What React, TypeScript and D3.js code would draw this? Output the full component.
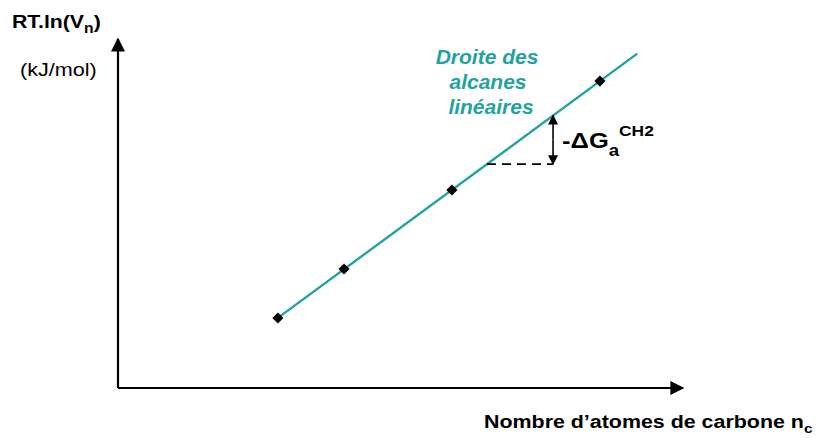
import React from "react";
import * as d3 from "d3";

const carbonNumbers = [2.83, 4.0, 5.91, 8.53];
const rtLnValues = [2.01, 3.42, 5.69, 8.82];
const lineEndX = 9.19;
const stepStartX = 6.53;
const stepEndX = 7.7;

const W = 821;
const H = 438;
const TEAL = "#22a39f";

export default function App() {
  const x = d3.scaleLinear().domain([0, 10]).range([118, 683]);
  const y = d3.scaleLinear().domain([0, 10]).range([388, 40]);

  const n = carbonNumbers.length;
  const mx = d3.mean(carbonNumbers)!;
  const my = d3.mean(rtLnValues)!;
  let sxy = 0, sxx = 0;
  for (let i = 0; i < n; i++) {
    sxy += (carbonNumbers[i] - mx) * (rtLnValues[i] - my);
    sxx += (carbonNumbers[i] - mx) ** 2;
  }
  const slope = sxy / sxx;
  const icpt = my - slope * mx;
  const f = (v: number) => icpt + slope * v;

  const line = d3.line<[number, number]>().x(d => x(d[0])).y(d => y(d[1]));
  const fitPts: [number, number][] = [[carbonNumbers[0], f(carbonNumbers[0])], [lineEndX, f(lineEndX)]];
  const stepY = f(stepStartX);

  const font = "'Liberation Sans', Arial, sans-serif";
  const marker = d3.symbol().type(d3.symbolSquare).size(62)();
  const midY = (y(stepY) + y(f(stepEndX))) / 2;

  return (
    <svg width={W} height={H} style={{ position: "absolute", left: 0, top: 0, background: "#fff" }}>
      <defs>
        <marker id="ah" viewBox="0 0 10 10" refX="9" refY="5" markerWidth="10" markerHeight="11" markerUnits="userSpaceOnUse" orient="auto">
          <path d="M0,0 L10,5 L0,10 z" fill="#000" />
        </marker>
        <marker id="big" viewBox="0 0 10 10" refX="9" refY="5" markerWidth="16" markerHeight="14" markerUnits="userSpaceOnUse" orient="auto">
          <path d="M0,0 L10,5 L0,10 z" fill="#000" />
        </marker>
      </defs>
      {/* axes */}
      <path d={`M${x(0)},${y(0)} L${x(0)},${y(10) - 1}`} stroke="#000" strokeWidth={2.2} markerEnd="url(#big)" fill="none" />
      <path d={`M${x(0)},${y(0)} L${x(10)},${y(0)}`} stroke="#000" strokeWidth={2.2} markerEnd="url(#big)" fill="none" />
      {/* fit line */}
      <path d={line(fitPts)!} stroke={TEAL} strokeWidth={2.4} fill="none" />
      {/* points */}
      {carbonNumbers.map((c, i) => (
        <path key={i} d={marker!} transform={`translate(${x(c)},${y(rtLnValues[i])}) rotate(45)`} fill="#000" />
      ))}
      {/* dashed step */}
      <line x1={x(stepStartX)} x2={x(stepEndX)} y1={y(stepY)} y2={y(stepY)} stroke="#000" strokeWidth={1.8} strokeDasharray="9,6" />
      <path d={`M${x(stepEndX)},${midY} L${x(stepEndX)},${y(stepY)}`} stroke="#000" strokeWidth={1.6} markerEnd="url(#ah)" />
      <path d={`M${x(stepEndX)},${midY} L${x(stepEndX)},${y(f(stepEndX))}`} stroke="#000" strokeWidth={1.6} markerEnd="url(#ah)" />
      {/* delta G label */}
      <g transform={`translate(${x(stepEndX) + 9},148) scale(1.16,1)`}>
        <text x={0} y={0} fontFamily={font} fontWeight="bold" fontSize={22} fill="#000">
          -ΔG
          <tspan fontSize={16} dy={8}>a</tspan>
          <tspan fontSize={15} dy={-20}>CH2</tspan>
        </text>
      </g>
      {/* teal label */}
      <g fontFamily={font} fontWeight="bold" fontStyle="italic" fontSize={21} fill={TEAL} textAnchor="middle">
        <text x={487} y={64}>Droite des</text>
        <text x={488} y={89}>alcanes</text>
        <text x={491} y={114}>linéaires</text>
      </g>
      {/* axis titles */}
      <g transform="translate(12,28) scale(1.12,1)">
        <text x={0} y={0} fontFamily={font} fontWeight="bold" fontSize={19} fill="#000">
          RT.ln(V<tspan fontSize={14} dy={5}>n</tspan><tspan dy={-5}>)</tspan>
        </text>
      </g>
      <g transform="translate(20,76) scale(1.2,1)">
        <text x={0} y={0} fontFamily={font} fontSize={18} fill="#000">(kJ/mol)</text>
      </g>
      <g transform="translate(484,428) scale(1.19,1)">
        <text x={0} y={0} fontFamily={font} fontWeight="bold" fontSize={18} fill="#000">
          Nombre d’atomes de carbone n<tspan fontSize={13} dy={5}>c</tspan>
        </text>
      </g>
    </svg>
  );
}
